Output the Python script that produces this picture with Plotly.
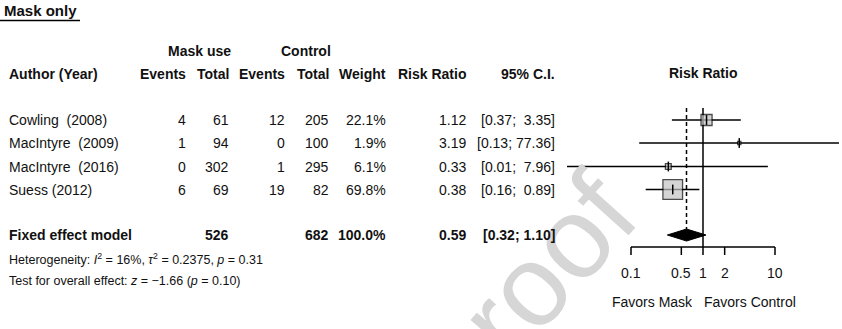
import math
import plotly.graph_objects as go

# ---- data -------------------------------------------------------------
studies = ["Cowling\u00a0 (2008)", "MacIntyre\u00a0 (2009)", "MacIntyre\u00a0 (2016)", "Suess (2012)"]
mask_events = [4, 1, 0, 6]
mask_total = [61, 94, 302, 69]
ctrl_events = [12, 0, 1, 19]
ctrl_total = [205, 100, 295, 82]
weights = [22.1, 1.9, 6.1, 69.8]
risk_ratio = [1.12, 3.19, 0.33, 0.38]
ci_low = [0.37, 0.13, 0.01, 0.16]
ci_high = [3.35, 77.36, 7.96, 0.89]

pooled_label = "Fixed effect model"
pooled_mask_total = 526
pooled_ctrl_total = 682
pooled_weight = 100.0
pooled_rr = 0.59
pooled_low = 0.32
pooled_high = 1.10

heterogeneity = "Heterogeneity: <i>I</i><sup>2</sup> = 16%, <i>\u03c4</i><sup>2</sup> = 0.2375, <i>p</i> = 0.31"
overall_test = "Test for overall effect: <i>z</i> = \u22121.66 (<i>p</i> = 0.10)"

tick_values = [0.1, 0.5, 1, 2, 10]
tick_labels = ["0.1", "0.5", "1", "2", "10"]

# ---- layout constants (pixels) ------------------------------------------
W, H = 842, 329
FONT = "Liberation Sans, Arial, sans-serif"
row_y = [120, 143, 166.5, 189.5]
pooled_y = 235
axis_y = 247
col = dict(events1=188, total1=231, events2=287, total2=331,
           weight=388, rr=468, ci=557)
plot_left, plot_right = 567, 839
px_per_decade = 72
x_at_one = 703
lo_log = (plot_left - x_at_one) / px_per_decade
hi_log = (plot_right - x_at_one) / px_per_decade

fig = go.Figure()
ann = []


def txt(x, y, s, anchor="right", size=14, bold=False, xref="paper"):
    if bold:
        s = "<b>" + s + "</b>"
    ann.append(dict(x=x / W if xref == "paper" else x, y=y, xref=xref, yref="y",
                    text=s, showarrow=False, xanchor=anchor, yanchor="middle",
                    font=dict(family=FONT, size=size, color="#111111")))


# faint watermark behind everything
ann.append(dict(x=547 / W, y=266, xref="paper", yref="y", text="roof",
                showarrow=False, textangle=-48, xanchor="center", yanchor="middle",
                font=dict(family=FONT, size=115, color="#d6d6d6")))

# title
txt(2, 10, "Mask only", anchor="left", size=15, bold=True)

# headers
txt(199, 50.5, "Mask use", anchor="center", bold=True)
txt(306, 50.5, "Control", anchor="center", bold=True)
txt(7, 74, "Author (Year)", anchor="left", bold=True)
for key, lab in [("events1", "Events"), ("total1", "Total"), ("events2", "Events"),
                 ("total2", "Total"), ("weight", "Weight"), ("rr", "Risk Ratio"),
                 ("ci", "95% C.I.")]:
    txt(col[key], 74, lab, bold=True)
txt(0, 73, "Risk Ratio", anchor="center", bold=True, xref="x")

# study rows
for i, name in enumerate(studies):
    y = row_y[i]
    txt(7, y, name, anchor="left")
    txt(col["events1"], y, str(mask_events[i]))
    txt(col["total1"], y, str(mask_total[i]))
    txt(col["events2"], y, str(ctrl_events[i]))
    txt(col["total2"], y, str(ctrl_total[i]))
    txt(col["weight"], y, f"{weights[i]:.1f}%")
    txt(col["rr"], y, f"{risk_ratio[i]:.2f}")
    hi = f"{ci_high[i]:.2f}"
    pad = "\u00a0" if len(hi) < 5 else ""
    txt(col["ci"], y, f"[{ci_low[i]:.2f}; {pad}{hi}]")

# pooled row
txt(7, pooled_y, pooled_label, anchor="left", bold=True)
txt(col["total1"], pooled_y, str(pooled_mask_total), bold=True)
txt(col["total2"], pooled_y, str(pooled_ctrl_total), bold=True)
txt(col["weight"], pooled_y, f"{pooled_weight:.1f}%", bold=True)
txt(col["rr"], pooled_y, f"{pooled_rr:.2f}", bold=True)
txt(col["ci"], pooled_y, f"[{pooled_low:.2f}; {pooled_high:.2f}]", bold=True)

txt(7, 259, heterogeneity, anchor="left", size=12.5)
txt(7, 281, overall_test, anchor="left", size=12.5)

# tick labels and direction labels
for v, lab in zip(tick_values, tick_labels):
    txt(math.log10(v), 273, lab, anchor="center", xref="x")
txt(695, 302, "Favors Mask", anchor="right")
txt(702, 302, "Favors Control", anchor="left")

# ---- forest graphics ----------------------------------------------------
line_style = dict(color="black", width=1.5)

# reference lines: no effect (solid) and pooled estimate (dashed)
fig.add_trace(go.Scatter(x=[1, 1], y=[108, axis_y], mode="lines",
                         line=line_style, hoverinfo="skip"))
fig.add_trace(go.Scatter(x=[pooled_rr, pooled_rr], y=[108, pooled_y - 6], mode="lines",
                         line=dict(color="black", width=1.5, dash="4px,3px"),
                         hoverinfo="skip"))

# confidence intervals
for i in range(len(studies)):
    fig.add_trace(go.Scatter(x=[ci_low[i], ci_high[i]], y=[row_y[i], row_y[i]],
                             mode="lines", line=line_style, hoverinfo="skip"))

# weight boxes
fig.add_trace(go.Scatter(
    x=risk_ratio, y=row_y, mode="markers",
    marker=dict(symbol="square", size=[2.35 * math.sqrt(w) for w in weights],
                color="#c2c2c2", line=dict(color="black", width=1.3)),
    hoverinfo="skip"))
fig.add_trace(go.Scatter(
    x=risk_ratio, y=row_y, mode="markers",
    marker=dict(symbol="line-ns", size=7, line=dict(color="black", width=1.5)),
    hoverinfo="skip"))

# pooled diamond
fig.add_trace(go.Scatter(
    x=[pooled_low, pooled_rr, pooled_high, pooled_rr, pooled_low],
    y=[pooled_y, pooled_y - 6, pooled_y, pooled_y + 6, pooled_y],
    mode="lines", fill="toself", fillcolor="black",
    line=dict(color="black", width=1), hoverinfo="skip"))

# x axis drawn from the tick values
fig.add_trace(go.Scatter(x=[tick_values[0], tick_values[-1]], y=[axis_y, axis_y],
                         mode="lines", line=line_style, hoverinfo="skip"))
for v in tick_values:
    fig.add_trace(go.Scatter(x=[v, v], y=[axis_y, axis_y + 8], mode="lines",
                             line=line_style, hoverinfo="skip"))

fig.update_layout(
    width=W, height=H, margin=dict(l=0, r=0, t=0, b=0),
    paper_bgcolor="white", plot_bgcolor="white", showlegend=False,
    xaxis=dict(type="log", range=[lo_log, hi_log],
               domain=[plot_left / W, plot_right / W], visible=False),
    yaxis=dict(range=[H, 0], domain=[0, 1], visible=False),
    annotations=ann,
    shapes=[dict(type="line", xref="paper", yref="y", x0=0, x1=80 / W,
                 y0=20.5, y1=20.5, line=dict(color="black", width=1.5))],
)

fig.write_html("out.html")
